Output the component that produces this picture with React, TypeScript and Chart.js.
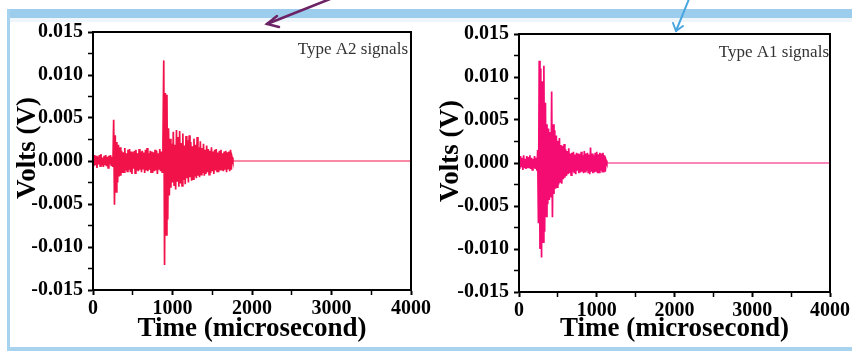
import React, { useEffect, useRef } from 'react';
import { Chart, registerables } from 'chart.js';

Chart.register(...registerables);

// ---- data (values in millivolts, sampled every STEP_US microseconds) ----
const STEP_US = 10;
const X_MIN = 0;
const X_MAX = 4000;
const Y_MIN = -0.015;
const Y_MAX = 0.015;
const X_MAJOR = [0, 1000, 2000, 3000, 4000];
const Y_MAJOR = [-0.015, -0.01, -0.005, 0, 0.005, 0.01, 0.015];

const A2_LABEL = 'Type A2 signals';
const A2_MV = [
  0.4, -0.6, 0.7, -0.5, 0.6, -0.8, 0.5, -0.4, 0.7, -0.6,
  0.8, -0.5, 0.4, -0.7, 0.6, -0.5, 0.7, -0.6, 0.5, -0.8,
  0.6, -0.4, 0.7, -0.6, 0.5, -0.7,
  4.8, -5.1, 3.0, -3.6, 2.2, -2.5, 1.9, -1.8, 1.6, -1.7,
  1.2, -1.4, 1.0, -1.3, 1.5, -1.1, 0.9, -1.2, 1.3, -1.0,
  1.4, -1.3, 1.1, -1.5, 1.0, -0.9, 1.2, -1.4, 1.3, -1.1,
  0.9, -1.2, 1.4, -1.0, 1.1, -1.3, 1.2, -0.9, 1.0, -1.4,
  1.3, -1.1, 1.5, -1.2, 0.9, -1.0, 1.2, -1.3, 1.1, -1.4,
  1.0, -1.2, 1.3, -1.1, 1.2, -1.5, 0.9, -1.0, 1.4, -1.2,
  1.1, -1.3,
  2.2, 11.7, -12.1, 7.9, -8.6, 7.7, -6.8, 3.8,
  -4.0, 2.6, -3.1, 2.0, -2.5, 3.4, -2.8, 1.9, -3.3, 3.6,
  -2.4, 2.8, -3.0, 3.5, -2.6, 2.1, -2.9, 3.2, -2.2, 1.8,
  -2.7, 2.9, -2.0, 2.4, -2.5, 3.0, -1.9, 2.2, -2.3, 1.7,
  -2.1, 2.6, -1.8, 1.9, -2.0, 2.8, -1.7, 1.6, -1.9, 2.3,
  -1.6, 1.5, -1.4, 2.0, -1.7, 1.3, -1.5, 1.8, -1.3, 1.4,
  -1.6, 1.2, -1.4, 1.6, -1.2, 1.1, -1.5, 1.3, -1.1, 1.4,
  -1.2, 1.0, -1.3, 1.2, -1.0, 1.3, -1.1, 0.9, -1.2, 1.1,
  -1.0, 1.2, -1.3, 1.0, -0.9, 1.1, -1.2, 1.3, -1.0, 0.4,
];

const A1_LABEL = 'Type A1 signals';
const A1_MV = [
  0.5, -0.7, 0.8, -0.5, 0.6, -0.8, 0.9, -0.6, 0.5, -0.7,
  0.8, -0.6, 0.7, -0.5, 0.9, -0.7, 0.6, -0.8, 0.5, -0.6,
  0.8, -0.7, 0.6, -0.9,
  1.5, -7.0, 11.9, -10.0, 11.0, -11.0, 9.5, -9.2, 11.3, -8.0,
  7.0, -6.2, 4.5, -4.8, 4.0, -4.3, 3.6,
  -4.0, 8.3, -6.3, 4.5, -3.6, 3.8, -3.0, 3.2, -2.8, 2.6,
  -2.5, 2.9, -2.2, 2.1, -2.4, 2.0, -1.9, 2.2, -1.7, 1.6,
  -1.5, 1.4, -1.3, 1.7, -1.2, 1.1, -1.4, 1.2, -1.0, 1.3,
  -1.1, 1.0, -1.3, 1.2, -0.9, 1.1, -1.2, 1.0, -1.1, 1.3,
  -1.0, 0.9, -1.2, 1.4, -1.0, 1.1, -0.9, 1.2, -1.1, 1.0,
  -1.3, 1.8, -1.0, 1.1, -1.2, 0.9, -1.1, 1.2, -1.0, 1.3,
  -1.2, 1.0, -1.1, 1.2, -0.9, 1.1, -1.0, 1.2, -1.1, 0.9,
  -1.0, 0.3,
];

const X_TITLE = 'Time (microsecond)';
const Y_TITLE = 'Volts (V)';

const SERIF = '"Liberation Serif", "Times New Roman", serif';

function toPoints(mv: number[]) {
  const pts = mv.map((v, i) => ({ x: i * STEP_US, y: v / 1000 }));
  pts.push({ x: mv.length * STEP_US, y: 0 });
  return pts;
}

function tailPoints(mv: number[]) {
  return [
    { x: mv.length * STEP_US, y: 0 },
    { x: X_MAX, y: 0 },
  ];
}

function isMultiple(v: number, step: number) {
  return Math.abs(Math.round(v / step) * step - v) < 1e-9;
}

type Geo = {
  width: number;
  areaLeft: number;
  areaRight: number;
  areaTop: number;
  areaBottom: number;
  yTitleOffset: number;
  yTitleShift: number;
  noteRightPad: number;
  noteTop: number;
};

function SignalChart({ mv, color, note, geo, left }: { mv: number[]; color: string; note: string; geo: Geo; left: number }) {
  const ref = useRef<HTMLCanvasElement | null>(null);
  useEffect(() => {
    if (!ref.current) return;
    const H = 351;
    const decor = {
      id: 'decor',
      afterDatasetsDraw(chart: any) {
        const { ctx, chartArea: a } = chart;
        ctx.save();
        ctx.strokeStyle = '#000';
        ctx.lineWidth = 2;
        ctx.strokeRect(a.left, a.top, a.right - a.left, a.bottom - a.top);
        ctx.fillStyle = '#333';
        ctx.font = `17px ${SERIF}`;
        ctx.textAlign = 'right';
        ctx.textBaseline = 'middle';
        ctx.fillText(note, a.right - geo.noteRightPad, a.top + geo.noteTop);
        ctx.translate(a.left - geo.yTitleOffset, (a.top + a.bottom) / 2 - geo.yTitleShift);
        ctx.rotate(-Math.PI / 2);
        ctx.fillStyle = '#000';
        ctx.font = `bold 27px ${SERIF}`;
        ctx.textAlign = 'center';
        ctx.textBaseline = 'middle';
        ctx.fillText(Y_TITLE, 0, 0);
        ctx.restore();
      },
    };
    const tickFont = { family: SERIF, weight: 'bold' as const, size: 20 };
    const chart = new Chart(ref.current, {
      type: 'line',
      data: {
        datasets: [
          {
            data: toPoints(mv),
            borderColor: color,
            borderWidth: 1.7,
            pointRadius: 0,
            tension: 0,
            fill: false,
          },
          {
            data: tailPoints(mv),
            borderColor: color,
            borderWidth: 1,
            pointRadius: 0,
            tension: 0,
            fill: false,
          },
        ],
      },
      options: {
        responsive: false,
        animation: false,
        events: [],
        layout: {
          padding: { left: 0, top: geo.areaTop, right: geo.width - geo.areaRight, bottom: 0 },
        },
        plugins: { legend: { display: false }, tooltip: { enabled: false }, title: { display: false } },
        scales: {
          x: {
            type: 'linear',
            min: X_MIN,
            max: X_MAX,
            afterFit: (s: any) => {
              s.height = H - geo.areaBottom;
            },
            ticks: {
              stepSize: 500,
              autoSkip: false,
              maxRotation: 0,
              padding: 2,
              color: '#000',
              font: tickFont,
              callback: (v: any) => (X_MAJOR.includes(Number(v)) ? String(v) : ''),
            },
            grid: {
              drawOnChartArea: false,
              drawTicks: true,
              tickLength: 5,
              tickColor: '#000',
              tickWidth: (c: any) => (c.tick && isMultiple(c.tick.value, 1000) ? 2 : 1.5),
            },
            border: { display: true, color: '#000', width: 2 },
            title: {
              display: true,
              text: X_TITLE,
              color: '#000',
              font: { family: SERIF, weight: 'bold', size: 27 },
              padding: { top: 0, bottom: 6 },
            },
          },
          y: {
            type: 'linear',
            min: Y_MIN,
            max: Y_MAX,
            afterFit: (s: any) => {
              s.width = geo.areaLeft;
            },
            ticks: {
              stepSize: 0.0025,
              autoSkip: false,
              padding: 5,
              color: '#000',
              font: tickFont,
              callback: (v: any) => {
                const n = Number(v);
                if (!Y_MAJOR.some((m) => Math.abs(m - n) < 1e-9)) return '';
                return Math.abs(n) < 1e-9 ? '0.000' : n.toFixed(3);
              },
            },
            grid: {
              drawOnChartArea: false,
              drawTicks: true,
              tickLength: 5,
              tickColor: '#000',
              tickWidth: (c: any) => (c.tick && isMultiple(c.tick.value, 0.005) ? 2 : 1.5),
            },
            border: { display: true, color: '#000', width: 2 },
          },
        },
      },
      plugins: [decor],
    } as any);
    return () => chart.destroy();
  }, [mv, color, note, geo]);
  return (
    <canvas
      ref={ref}
      width={geo.width}
      height={351}
      style={{ position: 'absolute', left, top: 0, width: geo.width, height: 351 }}
    />
  );
}

const LEFT_GEO: Geo = {
  width: 440,
  areaLeft: 93,
  areaRight: 411,
  areaTop: 32,
  areaBottom: 290,
  yTitleOffset: 65,
  yTitleShift: 13,
  noteRightPad: 3,
  noteTop: 18,
};
const RIGHT_GEO: Geo = {
  width: 426,
  areaLeft: 93,
  areaRight: 406,
  areaTop: 34,
  areaBottom: 292,
  yTitleOffset: 68,
  yTitleShift: 12,
  noteRightPad: 1,
  noteTop: 19,
};

export default function App() {
  return (
    <div style={{ position: 'absolute', left: 0, top: 0, width: 852, height: 351, background: '#fff', overflow: 'hidden' }}>
      <div style={{ position: 'absolute', left: 7, top: 9, width: 845, height: 9, background: '#9ccdec' }} />
      <div style={{ position: 'absolute', left: 7, top: 18, width: 845, height: 4, background: '#eef6fb' }} />
      <div style={{ position: 'absolute', left: 7, top: 9, width: 3, height: 342, background: '#a8d3ef' }} />
      <div style={{ position: 'absolute', left: 7, top: 347, width: 845, height: 4, background: '#a8d3ef' }} />
      <SignalChart mv={A2_MV} color="#f2124a" note={A2_LABEL} geo={LEFT_GEO} left={0} />
      <SignalChart mv={A1_MV} color="#f50c72" note={A1_LABEL} geo={RIGHT_GEO} left={426} />
      <svg width={852} height={351} style={{ position: 'absolute', left: 0, top: 0, pointerEvents: 'none' }}>
        <g stroke="#6b2366" strokeWidth={2.5} fill="none" strokeLinecap="round">
          <line x1={330} y1={-1} x2={267} y2={24} />
          <polyline points="277,16 267,24 279,27" />
        </g>
        <g stroke="#4aa6e0" strokeWidth={2} fill="none" strokeLinecap="round">
          <line x1={689} y1={-1} x2={676} y2={31} />
          <polyline points="673,23 676,31 683,26" />
        </g>
      </svg>
    </div>
  );
}
